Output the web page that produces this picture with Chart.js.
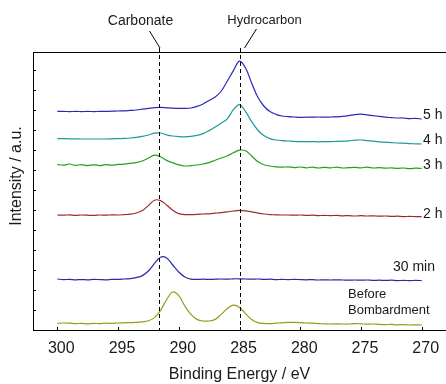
<!DOCTYPE html>
<html>
<head>
<meta charset="utf-8">
<script src="https://cdn.jsdelivr.net/npm/chart.js@4.4.1/dist/chart.umd.min.js"></script>
<style>
  body { margin: 0; background: #fff; }
  canvas { display: block; }
</style>
</head>
<body>
<canvas id="xps" width="446" height="384"></canvas>
<script>
// binding energy axis (eV), shared by every spectrum
const energy = [
  300, 299.5, 299, 298.5, 298, 297.5, 297, 296.5, 296, 295.5,
  295, 294.5, 294, 293.5, 293, 292.5, 292, 291.5, 291, 290.5,
  290, 289.5, 289, 288.5, 288, 287.5, 287, 286.5, 286, 285.5,
  285, 284.5, 284, 283.5, 283, 282.5, 282, 281.5, 281, 280.5,
  280, 279.5, 279, 278.5, 278, 277.5, 277, 276.5, 276, 275.5,
  275, 274.5, 274, 273.5, 273, 272.5, 272, 271.5, 271, 270.5,
  270
];

// intensities, already stacked with their vertical offset
const beforeBombardment = [
  0.33, 0.35, 0.34, 0.32, 0.33, 0.31, 0.33, 0.32, 0.34, 0.33,
  0.35, 0.36, 0.37, 0.38, 0.41, 0.46, 0.62, 0.98, 1.52, 1.90,
  1.72, 1.20, 0.78, 0.53, 0.45, 0.45, 0.53, 0.78, 1.07, 1.24,
  1.13, 0.82, 0.52, 0.37, 0.33, 0.32, 0.34, 0.36, 0.38, 0.38,
  0.37, 0.35, 0.34, 0.32, 0.31, 0.30, 0.31, 0.30, 0.30, 0.32,
  0.31, 0.29, 0.30, 0.28, 0.27, 0.28, 0.26, 0.27, 0.25, 0.26,
  0.25
];
const min30 = [
  2.55, 2.52, 2.53, 2.51, 2.52, 2.51, 2.53, 2.52, 2.51, 2.53,
  2.53, 2.55, 2.57, 2.62, 2.72, 2.95, 3.33, 3.64, 3.60, 3.25,
  2.90, 2.65, 2.54, 2.53, 2.54, 2.53, 2.54, 2.55, 2.54, 2.56,
  2.56, 2.55, 2.54, 2.55, 2.53, 2.54, 2.52, 2.53, 2.52, 2.53,
  2.52, 2.51, 2.52, 2.50, 2.51, 2.50, 2.51, 2.50, 2.49, 2.50,
  2.49, 2.50, 2.48, 2.49, 2.48, 2.49, 2.47, 2.48, 2.47, 2.48,
  2.47
];
const h2 = [
  5.75, 5.74, 5.76, 5.73, 5.75, 5.74, 5.73, 5.75, 5.74, 5.76,
  5.75, 5.77, 5.79, 5.85, 5.97, 6.22, 6.49, 6.47, 6.25, 5.99,
  5.82, 5.77, 5.77, 5.78, 5.80, 5.81, 5.84, 5.87, 5.91, 5.95,
  5.98, 5.96, 5.91, 5.85, 5.80, 5.77, 5.76, 5.75, 5.75, 5.74,
  5.75, 5.73, 5.74, 5.72, 5.73, 5.72, 5.73, 5.71, 5.72, 5.70,
  5.72, 5.70, 5.71, 5.69, 5.70, 5.68, 5.69, 5.67, 5.68, 5.67,
  5.67
];
const h3 = [
  8.28, 8.24, 8.30, 8.23, 8.27, 8.22, 8.26, 8.22, 8.27, 8.24,
  8.28, 8.29, 8.33, 8.37, 8.45, 8.60, 8.74, 8.66, 8.48, 8.36,
  8.26, 8.20, 8.22, 8.25, 8.30, 8.37, 8.49, 8.60, 8.71, 8.86,
  8.99, 8.96, 8.70, 8.42, 8.26, 8.20, 8.16, 8.14, 8.16, 8.12,
  8.15, 8.11, 8.14, 8.10, 8.13, 8.11, 8.14, 8.10, 8.12, 8.13,
  8.11, 8.14, 8.10, 8.12, 8.09, 8.11, 8.08, 8.10, 8.07, 8.09,
  8.08
];
const h4 = [
  9.57, 9.57, 9.56, 9.56, 9.55, 9.55, 9.55, 9.55, 9.55, 9.56,
  9.57, 9.58, 9.60, 9.63, 9.68, 9.75, 9.84, 9.85, 9.76, 9.70,
  9.67, 9.66, 9.68, 9.73, 9.82, 9.97, 10.15, 10.35, 10.56, 11.02,
  11.27, 10.92, 10.42, 10.00, 9.72, 9.57, 9.50, 9.47, 9.45, 9.43,
  9.42, 9.42, 9.42, 9.41, 9.42, 9.42, 9.43, 9.44, 9.46, 9.49,
  9.50, 9.47, 9.44, 9.41, 9.39, 9.37, 9.35, 9.34, 9.32, 9.31,
  9.30
];
const h5 = [
  10.93, 10.93, 10.92, 10.93, 10.92, 10.93, 10.92, 10.93, 10.93, 10.94,
  10.95, 10.96, 10.98, 11.00, 11.04, 11.08, 11.12, 11.13, 11.11, 11.09,
  11.08, 11.08, 11.10, 11.18, 11.30, 11.48, 11.65, 11.95, 12.45, 12.97,
  13.44, 13.10, 12.35, 11.65, 11.20, 10.92, 10.78, 10.70, 10.67, 10.65,
  10.63, 10.64, 10.64, 10.65, 10.64, 10.65, 10.66, 10.68, 10.72, 10.77,
  10.79, 10.76, 10.72, 10.68, 10.64, 10.62, 10.60, 10.60, 10.57, 10.58,
  10.55
];

const seriesNames = ['Before Bombardment', '30 min', '2 h', '3 h', '4 h', '5 h'];
const seriesColors = ['#9a9a1c', '#2a2aa6', '#a02a2a', '#22a022', '#1e9a9a', '#2a2ab4'];
const seriesValues = [beforeBombardment, min30, h2, h3, h4, h5];

const energyTicks = [300, 295, 290, 285, 280, 275, 270];
const intensityTicks = [1, 2, 3, 4, 5, 6, 7, 8, 9, 10, 11, 12, 13];
const peakNames = ['Carbonate', 'Hydrocarbon'];
const peakEnergies = [291.65, 285];

const FONT = '"Liberation Sans", Arial, sans-serif';
const INK = '#1a1a1a';

const decor = {
    id: 'decor',
    afterDatasetsDraw(chart) {
        const { ctx, chartArea: a, scales: { x, y } } = chart;
        ctx.save();
        ctx.strokeStyle = '#000';
        ctx.lineWidth = 1;

        // top frame line
        ctx.beginPath();
        ctx.moveTo(a.left, Math.round(a.top) + 0.5);
        ctx.lineTo(a.right, Math.round(a.top) + 0.5);
        ctx.stroke();

        // inward tick marks
        ctx.beginPath();
        intensityTicks.forEach(v => {
            const py = Math.round(y.getPixelForValue(v)) + 0.5;
            ctx.moveTo(a.left, py);
            ctx.lineTo(a.left + 3, py);
        });
        energyTicks.forEach(v => {
            const px = Math.round(x.getPixelForValue(v)) + 0.5;
            ctx.moveTo(px, a.bottom);
            ctx.lineTo(px, a.bottom - 3);
        });
        ctx.stroke();

        // dashed peak markers with leader lines and names
        const lead = [
            { tx: -19, ty: 21, x1: -10, y1: 31, x2: 0.5, y2: 48, size: 14 },
            { tx: 24, ty: 20, x1: 16, y1: 29, x2: 4, y2: 48, size: 13 }
        ];
        peakEnergies.forEach((e, i) => {
            const px = Math.round(x.getPixelForValue(e)) + 0.5;
            ctx.setLineDash([4, 3]);
            ctx.beginPath();
            ctx.moveTo(px, 48);
            ctx.lineTo(px, a.bottom);
            ctx.stroke();
            ctx.setLineDash([]);
            const l = lead[i];
            ctx.beginPath();
            ctx.moveTo(px + l.x1, l.y1);
            ctx.lineTo(px + l.x2, l.y2);
            ctx.stroke();
            ctx.fillStyle = INK;
            ctx.font = l.size + 'px ' + FONT;
            ctx.textAlign = 'center';
            ctx.textBaseline = 'middle';
            ctx.fillText(peakNames[i], px + l.tx, l.ty);
        });

        // series labels on the right
        const spots = [
            [['Before', 348, 294], ['Bombardment', 348, 310]],
            [['30 min', 393, 267]],
            [['2 h', 423, 214.5]],
            [['3 h', 423, 165]],
            [['4 h', 423, 140.5]],
            [['5 h', 423, 115]]
        ];
        ctx.fillStyle = INK;
        ctx.textAlign = 'left';
        ctx.textBaseline = 'middle';
        spots.forEach((lines, i) => {
            ctx.font = (i === 0 ? 13 : 14) + 'px ' + FONT;
            lines.forEach(([t, lx, ly]) => ctx.fillText(t, lx, ly));
        });

        // axis titles
        ctx.font = '16px ' + FONT;
        ctx.textAlign = 'center';
        ctx.fillText('Binding Energy / eV', (a.left + a.right) / 2, 375);
        ctx.translate(17, 176);
        ctx.rotate(-Math.PI / 2);
        ctx.fillText('Intensity / a.u.', 0, 0);
        ctx.restore();
    }
};

const ctx = document.getElementById('xps').getContext('2d');
new Chart(ctx, {
    type: 'line',
    data: {
        datasets: seriesValues.map((vals, i) => ({
            label: seriesNames[i],
            data: energy.map((e, j) => ({ x: e, y: vals[j] })),
            borderColor: seriesColors[i],
            borderWidth: 1.2,
            pointRadius: 0,
            tension: 0.35,
            fill: false
        }))
    },
    options: {
        responsive: false,
        animation: false,
        devicePixelRatio: 1,
        layout: { padding: { top: 52, right: 0, left: 0, bottom: 0 } },
        plugins: { legend: { display: false }, tooltip: { enabled: false } },
        scales: {
            x: {
                type: 'linear',
                reverse: true,
                min: 268,
                max: 302,
                afterBuildTicks: s => { s.ticks = energyTicks.map(v => ({ value: v })); },
                afterFit: s => { s.height = 54; },
                grid: { display: false, drawTicks: false },
                border: { display: true, color: '#000', width: 1 },
                ticks: { color: INK, font: { family: FONT, size: 16 }, padding: 9, labelOffset: 4, maxRotation: 0 }
            },
            y: {
                min: 0,
                max: 13.9,
                afterFit: s => { s.width = 33; },
                grid: { display: false, drawTicks: false },
                border: { display: true, color: '#000', width: 1 },
                ticks: { display: false }
            }
        }
    },
    plugins: [decor]
});
</script>
</body>
</html>
